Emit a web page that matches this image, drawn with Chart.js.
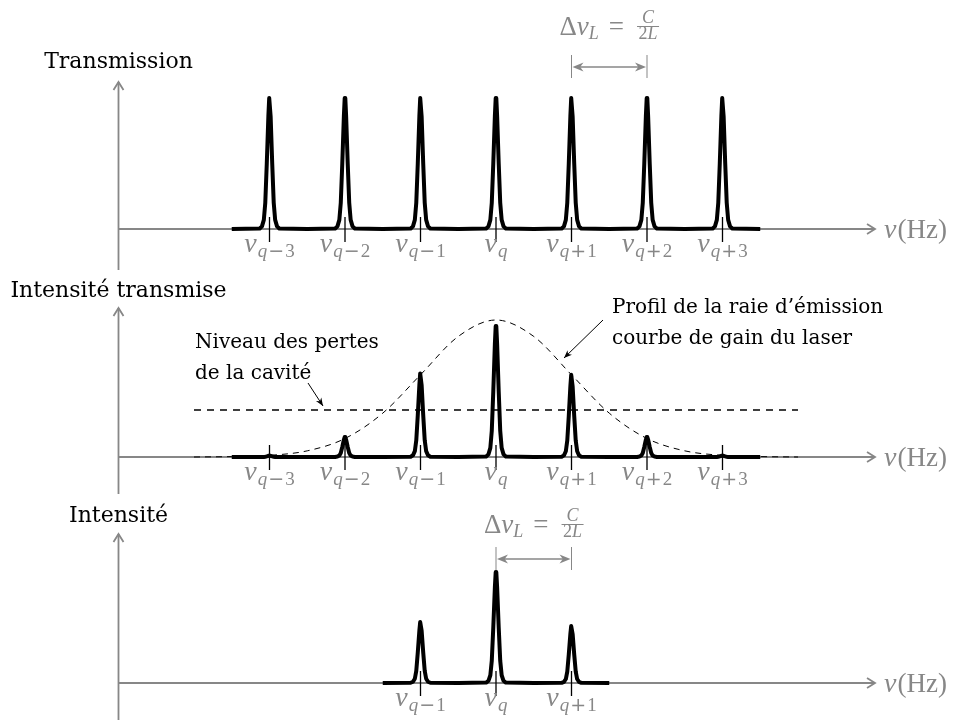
<!DOCTYPE html>
<html>
<head>
<meta charset="utf-8">
<script src="https://cdn.jsdelivr.net/npm/chart.js@4.4.1/dist/chart.umd.min.js"></script>
<style>
    html, body { margin: 0; padding: 0; background: #fff; }
    #cadre { position: relative; width: 954px; height: 720px; }
    canvas { position: absolute; left: 0; }
</style>
</head>
<body>
<div id="cadre">
    <canvas id="graficoTransmission" width="954" height="270" style="top:0px"></canvas>
    <canvas id="graficoCavite" width="954" height="230" style="top:270px"></canvas>
    <canvas id="graficoLaser" width="954" height="220" style="top:500px"></canvas>
</div>
<script>
// modes de la cavite (en unites de l'intervalle spectral libre, q = 0)
const modes = [-3, -2, -1, 0, 1, 2, 3];
const modeLabels = ["q−3", "q−2", "q−1", "q", "q+1", "q+2", "q+3"];
const transmission = [1, 1, 1, 1, 1, 1, 1];
const intensiteTransmise = [0.01, 0.146, 0.61, 0.956, 0.6, 0.146, 0.01];
const modesLaser = [-1, 0, 1];
const labelsLaser = ["q−1", "q", "q+1"];
const intensiteLaser = [0.445, 0.81, 0.416];

// courbe de gain (profil de la raie) et niveau des pertes
const gainX = [-4, -3.5, -3, -2.5, -2, -1.5, -1, -0.5, 0, 0.5, 1, 1.5, 2, 2.5, 3, 3.5, 4];
const gainY = [0, 0.003, 0.012, 0.045, 0.135, 0.32, 0.6, 0.88, 1, 0.88, 0.6, 0.32, 0.135, 0.045, 0.012, 0.003, 0];
const niveauPertes = [0.343, 0.343];
const pertesX = [-4, 4];

// forme d'un pic (ecart au mode, hauteur relative)
const picEcarts = [-0.13, -0.1, -0.075, -0.056, -0.036, -0.015, -0.004, 0.004, 0.015, 0.036, 0.056, 0.075, 0.1, 0.13];
const picForme = [0.004, 0.02, 0.07, 0.2, 0.5, 0.86, 1, 1, 0.86, 0.5, 0.2, 0.07, 0.02, 0.004];

const GRIS = "#878787";
const X_MIN = -496 / 75.5;
const X_MAX = (954 - 496) / 75.5;

function construirePics(positions, hauteurs) {
    const points = [];
    positions.forEach((n, i) => {
        points.push({ x: n - 0.5, y: 0 });
        picEcarts.forEach((dx, k) => {
            points.push({ x: n + dx, y: hauteurs[i] * picForme[k] });
        });
        points.push({ x: n + 0.5, y: 0 });
    });
    return points;
}

function fontMath(taille, italique) {
    return (italique ? "italic " : "") + taille + 'px "Liberation Serif"';
}

function ecrireRuns(ctx, runs, x, y, centre) {
    let total = 0;
    runs.forEach((r) => {
        ctx.font = r.font;
        r.w = ctx.measureText(r.t).width;
        total += r.w + (r.gap || 0);
    });
    let cx = centre ? x - total / 2 : x;
    ctx.textAlign = "left";
    ctx.textBaseline = "alphabetic";
    runs.forEach((r) => {
        ctx.font = r.font;
        ctx.fillText(r.t, cx, y + (r.dy || 0));
        cx += r.w + (r.gap || 0);
    });
    return total;
}

function labelNu(sub) {
    const runs = [{ t: "ν", font: fontMath(28, true), gap: 1 }];
    runs.push({ t: "q", font: fontMath(19, true), dy: 5, gap: sub.length > 1 ? 1 : 0 });
    if (sub.length > 1) {
        runs.push({ t: sub.charAt(1), font: '19px "DejaVu Serif"', dy: 5, gap: 1 });
        runs.push({ t: sub.slice(2), font: fontMath(19, false), dy: 5 });
    }
    return runs;
}

function pointe(ctx, x1, y1, x2, y2, long, larg) {
    const a = Math.atan2(y2 - y1, x2 - x1);
    ctx.beginPath();
    ctx.moveTo(x2, y2);
    ctx.lineTo(x2 - long * Math.cos(a) + larg * Math.sin(a), y2 - long * Math.sin(a) - larg * Math.cos(a));
    ctx.lineTo(x2 - 0.7 * long * Math.cos(a), y2 - 0.7 * long * Math.sin(a));
    ctx.lineTo(x2 - long * Math.cos(a) - larg * Math.sin(a), y2 - long * Math.sin(a) + larg * Math.cos(a));
    ctx.closePath();
    ctx.fill();
}

function chevron(ctx, x, y, dir) {
    ctx.beginPath();
    if (dir === "haut") {
        ctx.moveTo(x - 5, y + 8); ctx.lineTo(x, y); ctx.lineTo(x + 5, y + 8);
    } else {
        ctx.moveTo(x - 8, y - 5); ctx.lineTo(x, y); ctx.lineTo(x - 8, y + 5);
    }
    ctx.stroke();
}

function ecrireDelta(ctx, xc, y) {
    const gauche = [
        { t: "Δ", font: fontMath(27, false) },
        { t: "ν", font: fontMath(27, true) },
        { t: "L", font: fontMath(18, true), dy: 4, gap: 10 },
        { t: "=", font: fontMath(27, false), gap: 13 }
    ];
    ctx.font = fontMath(18, true);
    const wC = ctx.measureText("C").width;
    ctx.font = fontMath(18, false);
    const w2 = ctx.measureText("2").width;
    ctx.font = fontMath(18, true);
    const wL = ctx.measureText("L").width;
    const wFrac = w2 + wL + 3;
    let wGauche = 0;
    gauche.forEach((r) => { ctx.font = r.font; wGauche += ctx.measureText(r.t).width + (r.gap || 0); });
    const x0 = xc - (wGauche + wFrac) / 2;
    ecrireRuns(ctx, gauche, x0, y, false);
    const xf = x0 + wGauche;
    ctx.font = fontMath(18, true);
    ctx.fillText("C", xf + (wFrac - wC) / 2, y - 12);
    ctx.fillRect(xf, y - 9, wFrac, 1);
    ctx.font = fontMath(18, false);
    ctx.fillText("2", xf + 1.5, y + 4);
    ctx.font = fontMath(18, true);
    ctx.fillText("L", xf + 1.5 + w2, y + 4);
}

function pluginAxes(cfg) {
    return {
        id: "axes" + cfg.nom,
        beforeDatasetsDraw(chart) {
            const ctx = chart.ctx;
            const px = (n) => chart.scales.x.getPixelForValue(n);
            const y0 = chart.scales.y.getPixelForValue(0);
            const xa = px(-5);
            ctx.save();
            ctx.strokeStyle = GRIS;
            ctx.lineWidth = 1.8;
            ctx.beginPath();
            ctx.moveTo(xa, cfg.axeBas);
            ctx.lineTo(xa, cfg.axeHaut);
            ctx.moveTo(xa, y0);
            ctx.lineTo(px(5.02), y0);
            ctx.stroke();
            chevron(ctx, xa, cfg.axeHaut, "haut");
            chevron(ctx, px(5.02), y0, "droite");
            ctx.restore();
        },
        afterDatasetsDraw(chart) {
            const ctx = chart.ctx;
            const px = (n) => chart.scales.x.getPixelForValue(n);
            const y0 = chart.scales.y.getPixelForValue(0);
            ctx.save();
            // traits des modes
            ctx.strokeStyle = "#000";
            ctx.lineWidth = 1.3;
            ctx.beginPath();
            cfg.positions.forEach((n) => {
                ctx.moveTo(px(n), y0 - 12);
                ctx.lineTo(px(n), y0 + 13);
            });
            ctx.stroke();
            // noms des modes
            ctx.fillStyle = GRIS;
            cfg.positions.forEach((n, i) => {
                ecrireRuns(ctx, labelNu(cfg.labels[i]), px(n), y0 + 23, true);
            });
            ecrireRuns(ctx, [
                { t: "ν", font: fontMath(28, true), gap: 1 },
                { t: "(Hz)", font: fontMath(27, false) }
            ], 884, y0 + 9, false);
            // titre
            ctx.fillStyle = "#000";
            ctx.font = '22px "DejaVu Serif"';
            ctx.textAlign = "center";
            ctx.fillText(cfg.titre, px(-5), cfg.titreY);
            // intervalle entre modes
            if (cfg.delta) {
                const d = cfg.delta;
                const xa = px(d.de), xb = px(d.a);
                ctx.strokeStyle = GRIS;
                ctx.fillStyle = GRIS;
                ctx.lineWidth = 1;
                ctx.beginPath();
                ctx.moveTo(xa, d.barreHaut); ctx.lineTo(xa, d.barreBas);
                ctx.moveTo(xb, d.barreHaut); ctx.lineTo(xb, d.barreBas);
                ctx.stroke();
                ctx.lineWidth = 1.7;
                ctx.beginPath();
                ctx.moveTo(xa + 4, d.flecheY); ctx.lineTo(xb - 4, d.flecheY);
                ctx.stroke();
                pointe(ctx, xb, d.flecheY, xa + 1, d.flecheY, 11, 4.5);
                pointe(ctx, xa, d.flecheY, xb - 1, d.flecheY, 11, 4.5);
                ecrireDelta(ctx, (xa + xb) / 2, d.texteY);
            }
            // annotations
            if (cfg.notes) {
                ctx.fillStyle = "#000";
                ctx.strokeStyle = "#000";
                ctx.font = '20px "DejaVu Serif"';
                ctx.textAlign = "left";
                cfg.notes.forEach((nt) => {
                    nt.lignes.forEach((l, k) => ctx.fillText(l, nt.x, nt.y + k * 31));
                    ctx.lineWidth = 1;
                    ctx.beginPath();
                    ctx.moveTo(nt.fleche[0], nt.fleche[1]);
                    ctx.lineTo(nt.fleche[2], nt.fleche[3]);
                    ctx.stroke();
                    pointe(ctx, nt.fleche[0], nt.fleche[1], nt.fleche[2], nt.fleche[3], 8, 3.2);
                });
            }
            ctx.restore();
        }
    };
}

function optionsPanneau(ymin, ymax) {
    return {
        responsive: false,
        animation: false,
        events: [],
        layout: { padding: 0 },
        plugins: { legend: { display: false }, tooltip: { enabled: false } },
        scales: {
            x: { type: "linear", display: false, min: X_MIN, max: X_MAX },
            y: { type: "linear", display: false, min: ymin, max: ymax }
        }
    };
}

function datasetPics(positions, hauteurs) {
    return {
        label: "pics",
        data: construirePics(positions, hauteurs),
        borderColor: "#000",
        borderWidth: 4,
        borderJoinStyle: "round",
        pointRadius: 0,
        tension: 0,
        fill: false
    };
}

const graficoTransmission = new Chart(document.getElementById("graficoTransmission"), {
    type: "line",
    data: { datasets: [datasetPics(modes, transmission)] },
    options: optionsPanneau(-41 / 131, 229 / 131),
    plugins: [pluginAxes({
        nom: "T", positions: modes, labels: modeLabels,
        titre: "Transmission", titreY: 68, axeHaut: 82, axeBas: 270,
        delta: { de: 1, a: 2, texteY: 35, flecheY: 67, barreHaut: 55, barreBas: 78 }
    })]
});

const graficoCavite = new Chart(document.getElementById("graficoCavite"), {
    type: "line",
    data: {
        datasets: [
            datasetPics(modes, intensiteTransmise),
            {
                label: "gain",
                data: gainX.map((x, i) => ({ x: x, y: gainY[i] })),
                borderColor: "#000",
                borderWidth: 1,
                borderDash: [6, 5],
                pointRadius: 0,
                cubicInterpolationMode: "monotone",
                fill: false
            },
            {
                label: "pertes",
                data: pertesX.map((x, i) => ({ x: x, y: niveauPertes[i] })),
                borderColor: "#000",
                borderWidth: 1.3,
                borderDash: [7, 6],
                pointRadius: 0,
                fill: false
            }
        ]
    },
    options: optionsPanneau(-43 / 137, 187 / 137),
    plugins: [pluginAxes({
        nom: "C", positions: modes, labels: modeLabels,
        titre: "Intensité transmise", titreY: 27, axeHaut: 38, axeBas: 224,
        notes: [
            { lignes: ["Niveau des pertes", "de la cavité"], x: 195, y: 78, fleche: [308, 113, 323, 136] },
            { lignes: ["Profil de la raie d’émission", "courbe de gain du laser"], x: 612, y: 43, fleche: [603, 50, 564, 88] }
        ]
    })]
});

const graficoLaser = new Chart(document.getElementById("graficoLaser"), {
    type: "line",
    data: { datasets: [datasetPics(modesLaser, intensiteLaser)] },
    options: optionsPanneau(-37 / 137, 183 / 137),
    plugins: [pluginAxes({
        nom: "L", positions: modesLaser, labels: labelsLaser,
        titre: "Intensité", titreY: 22, axeHaut: 34, axeBas: 220,
        delta: { de: 0, a: 1, texteY: 33, flecheY: 59, barreHaut: 47, barreBas: 70 }
    })]
});
</script>
</body>
</html>
